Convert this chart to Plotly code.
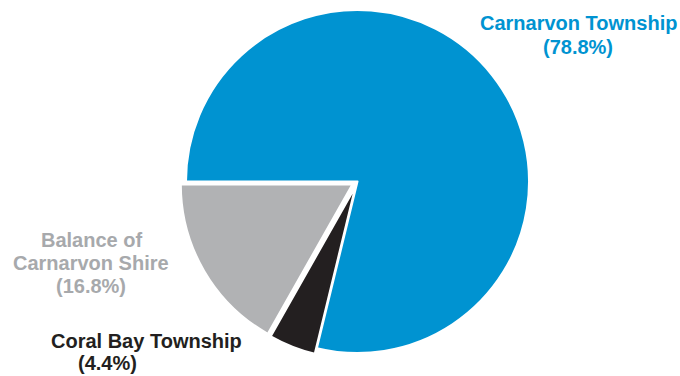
import plotly.graph_objects as go

# Population share by locality
labels = ["Carnarvon Township", "Coral Bay Township", "Balance of Carnarvon Shire"]
shares = [78.8, 4.4, 16.8]
colors = ["#0093D1", "#231F20", "#B1B2B4"]
pulls = [0, 0.035, 0.035]

# Label lines: (text, x, y, colour), y in pixels from top
label_lines = [
    ("Carnarvon Township", 578, 23, "#0093D1"),
    ("(78.8%)", 578, 47, "#0093D1"),
    ("Balance of", 91, 240, "#A7A9AC"),
    ("Carnarvon Shire", 91, 263, "#A7A9AC"),
    ("(16.8%)", 91, 286, "#A7A9AC"),
    ("Coral Bay Township", 146, 341, "#231F20"),
    ("(4.4%)", 107, 363, "#231F20"),
]

W, H = 680, 376

fig = go.Figure(
    go.Pie(
        labels=labels,
        values=shares,
        sort=False,
        direction="clockwise",
        rotation=-90,
        pull=pulls,
        marker=dict(colors=colors, line=dict(color="white", width=2)),
        textinfo="none",
        hoverinfo="label+percent",
        showlegend=False,
        domain=dict(x=[0.2647, 0.7868], y=[0.0452, 0.9894]),
    )
)

for text, x, y, col in label_lines:
    fig.add_annotation(
        text=f"<b>{text}</b>",
        x=x / W,
        y=1 - y / H,
        xref="paper",
        yref="paper",
        xanchor="center",
        yanchor="middle",
        showarrow=False,
        font=dict(family="Arial, Liberation Sans, sans-serif", size=20, color=col),
    )

fig.update_layout(
    width=W,
    height=H,
    margin=dict(l=0, r=0, t=0, b=0),
    paper_bgcolor="white",
    plot_bgcolor="white",
)

fig.write_html("out.html")
